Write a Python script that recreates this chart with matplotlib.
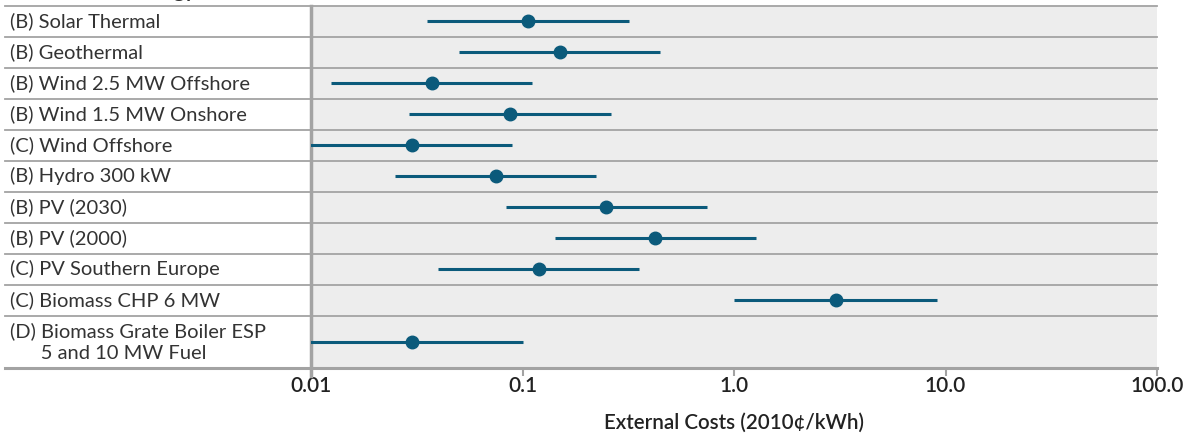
import matplotlib.pyplot as plt
import matplotlib.transforms as mtransforms
import numpy as np

technologies = [
    '(B) Solar Thermal',
    '(B) Geothermal',
    '(B) Wind 2.5 MW Offshore',
    '(B) Wind 1.5 MW Onshore',
    '(C) Wind Offshore',
    '(B) Hydro 300 kW',
    '(B) PV (2030)',
    '(B) PV (2000)',
    '(C) PV Southern Europe',
    '(C) Biomass CHP 6 MW',
    '(D) Biomass Grate Boiler ESP\n      5 and 10 MW Fuel',
]
central = [0.106, 0.150, 0.0374, 0.0873, 0.030, 0.0752, 0.248, 0.423, 0.120, 3.03, 0.030]
low = [0.0353, 0.0501, 0.0125, 0.0292, 0.0095, 0.0250, 0.0836, 0.142, 0.0398, 1.005, 0.009]
high = [0.318, 0.449, 0.111, 0.261, 0.0895, 0.223, 0.745, 1.27, 0.355, 9.1, 0.100]
ticks = [0.01, 0.1, 1.0, 10.0, 100.0]
tick_labels = ['0.01', '0.1', '1.0', '10.0', '100.0']

teal = '#0b5a7b'
grid = '#a3a3a3'
font = 'Lato'

row_h = np.array([1.0] * 10 + [1.68])
edges = np.concatenate([[0], np.cumsum(row_h)])
centers = (edges[:-1] + edges[1:]) / 2

fig = plt.figure(figsize=(11.9, 4.36), dpi=100)
ax = fig.add_axes([311 / 1190, 1 - 368 / 436, 846 / 1190, 362 / 436])
ax.set_facecolor('#ededed')
ax.set_xscale('log')
ax.set_xlim(0.01, 100)
ax.set_ylim(edges[-1], 0)

# row separators, running across the label column too
blend = mtransforms.blended_transform_factory(ax.transAxes, ax.transData)
for i, e in enumerate(edges):
    lw = 2.2 if i == len(edges) - 1 else 1.3
    ax.plot([-0.3617, 1.0], [e, e], color=grid, lw=lw, transform=blend,
            clip_on=False, zorder=1)

ax.hlines(centers, low, high, color=teal, lw=2.2, zorder=3)
ax.plot(central, centers, 'o', color=teal, ms=9, zorder=4)

lab_tr = mtransforms.blended_transform_factory(fig.transFigure, ax.transData)
for name, c in zip(technologies, centers):
    ax.text(10 / 1190, c, name, transform=lab_tr, ha='left', va='center',
            fontsize=14.5, family=font, color='#333333', linespacing=1.35)

# header of the label column, clipped by the top edge as in the source
fig.text(88 / 1190, 1 + 3 / 436, 'Technology', fontsize=15, family=font,
         weight='bold', color='#333333', va='baseline')

for s in ['top', 'right']:
    ax.spines[s].set_visible(False)
ax.spines['bottom'].set_visible(False)
ax.spines['left'].set_color(grid)
ax.spines['left'].set_linewidth(2.5)
ax.spines['left'].set_bounds(edges[-1] + 0.25, 0)

ax.set_yticks([])
ax.set_xticks(ticks)
ax.set_xticklabels(tick_labels)
ax.xaxis.set_minor_locator(plt.NullLocator())
ax.tick_params(axis='x', length=6, width=1.5, color=grid, pad=0,
               labelsize=15)
for t in ax.get_xticklabels():
    t.set_family(font)
    t.set_weight('semibold')
    t.set_color('#222222')

ax.set_xlabel('External Costs (2010¢/kWh)', fontsize=14.8, family=font,
              weight='semibold', color='#222222', labelpad=12)

fig.savefig('out.png', dpi=100)
